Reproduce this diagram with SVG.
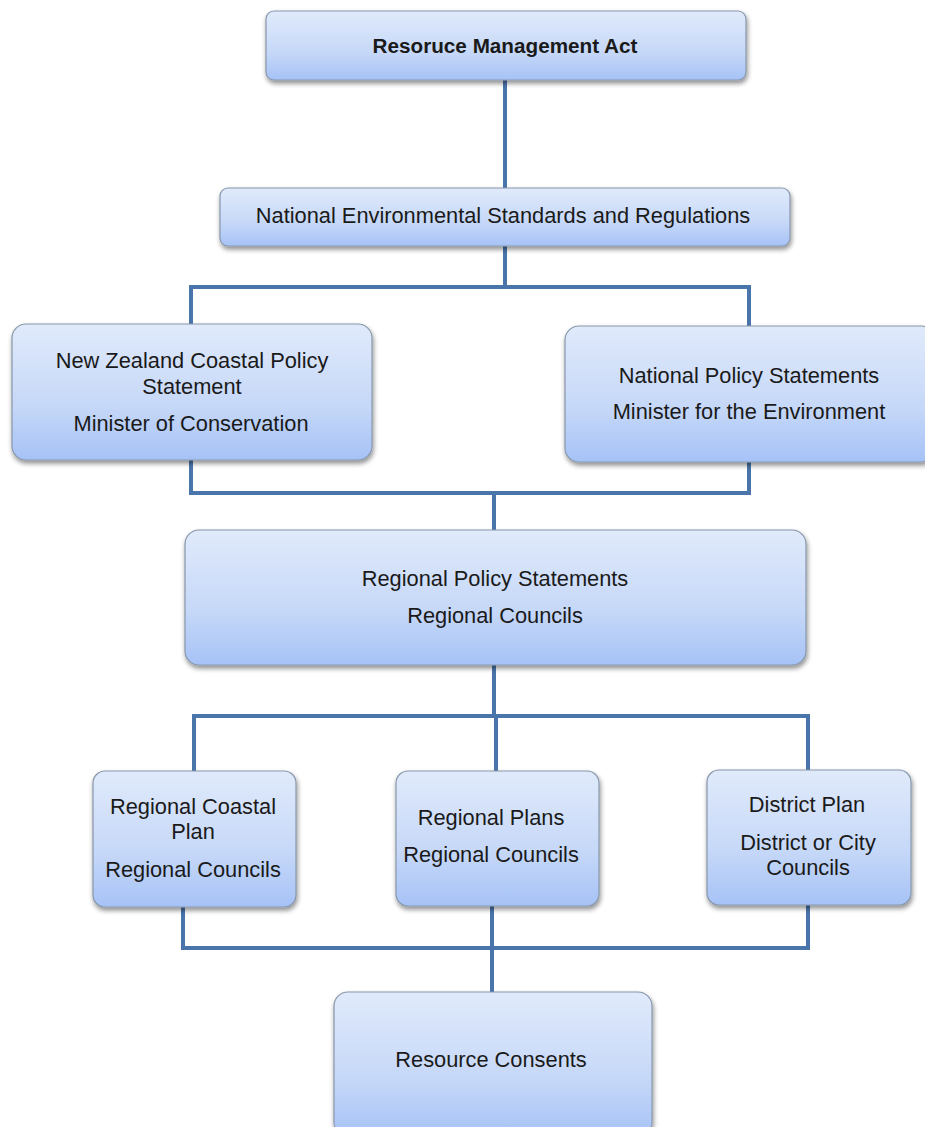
<svg xmlns="http://www.w3.org/2000/svg" width="925" height="1127" viewBox="0 0 925 1127">
<defs>
<linearGradient id="g" x1="0" y1="0" x2="0" y2="1">
<stop offset="0" stop-color="#e0eafb"/>
<stop offset="0.6" stop-color="#c6d8f8"/>
<stop offset="1" stop-color="#a6c2f6"/>
</linearGradient>
<filter id="sh" x="-10%" y="-10%" width="120%" height="130%">
<feGaussianBlur in="SourceAlpha" stdDeviation="2.5"/>
<feOffset dx="1" dy="3" result="b"/>
<feComponentTransfer><feFuncA type="linear" slope="0.45"/></feComponentTransfer>
<feMerge><feMergeNode/><feMergeNode in="SourceGraphic"/></feMerge>
</filter>
</defs>
<style>
.box{fill:url(#g);stroke:#8797ab;stroke-width:1.2;filter:url(#sh)}
.t{font-family:"Liberation Sans",Arial,sans-serif;font-size:21.8px;fill:#1a1a1a;text-anchor:middle}
.b{font-weight:bold;font-size:20.7px}
.c{fill:none;stroke:#4a75ab;stroke-width:4;stroke-linejoin:miter}
</style>
<rect width="925" height="1127" fill="#ffffff"/>
<g id="connectors">
<path class="c" d="M505 80V188"/>
<path class="c" d="M505 246V287M191 324V287H749V326"/>
<path class="c" d="M191 460V493H749V462M494 493V530"/>
<path class="c" d="M494 665V716M194 771V716H808V770M496 716V771"/>
<path class="c" d="M183 907V948H808V905M492 906V992"/>
</g>
<g id="n1"><rect class="box" x="266" y="11" width="480" height="69" rx="8"/><text class="t b" x="505" y="53">Resoruce Management Act</text></g>
<g id="n2"><rect class="box" x="220" y="188" width="570" height="58" rx="8"/><text class="t" x="503" y="223">National Environmental Standards and Regulations</text></g>
<g id="n3"><rect class="box" x="12" y="324" width="360" height="136" rx="14"/><text class="t" x="192" y="368">New Zealand Coastal Policy</text><text class="t" x="192" y="394">Statement</text><text class="t" x="191" y="431">Minister of Conservation</text></g>
<g id="n4"><rect class="box" x="565" y="326" width="370" height="136" rx="14"/><text class="t" x="749" y="383">National Policy Statements</text><text class="t" x="749" y="419">Minister for the Environment</text></g>
<g id="n5"><rect class="box" x="185" y="530" width="621" height="135" rx="14"/><text class="t" x="495" y="586">Regional Policy Statements</text><text class="t" x="495" y="623">Regional Councils</text></g>
<g id="n6"><rect class="box" x="93" y="771" width="203" height="136" rx="12"/><text class="t" x="193" y="814">Regional Coastal</text><text class="t" x="193" y="839">Plan</text><text class="t" x="193" y="877">Regional Councils</text></g>
<g id="n7"><rect class="box" x="396" y="771" width="203" height="135" rx="12"/><text class="t" x="491" y="825">Regional Plans</text><text class="t" x="491" y="862">Regional Councils</text></g>
<g id="n8"><rect class="box" x="707" y="770" width="204" height="135" rx="12"/><text class="t" x="807" y="812">District Plan</text><text class="t" x="808" y="850">District or City</text><text class="t" x="808" y="875">Councils</text></g>
<g id="n9"><rect class="box" x="334" y="992" width="318" height="145" rx="14"/><text class="t" x="491" y="1067">Resource Consents</text></g>
</svg>
